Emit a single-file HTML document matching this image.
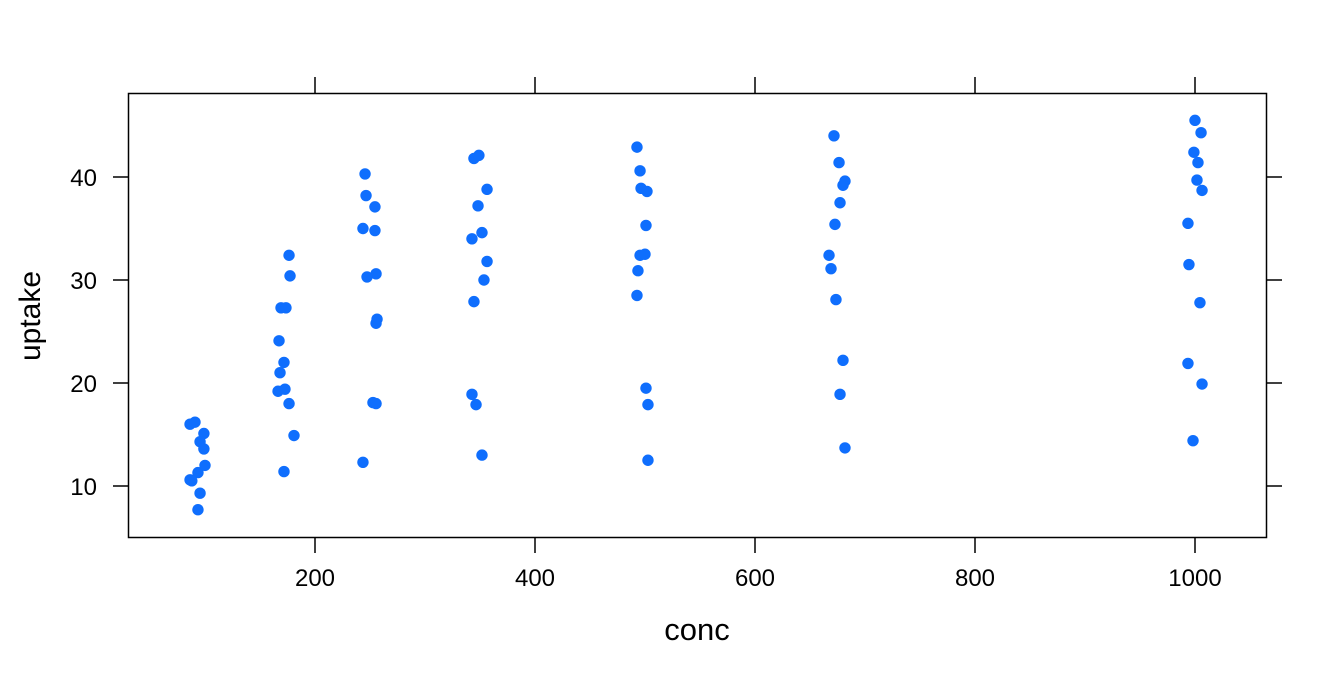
<!DOCTYPE html>
<html><head><meta charset="utf-8"><style>
html,body{margin:0;padding:0;background:#fff;}
svg text{font-family:"Liberation Sans",Arial,sans-serif;fill:#000;}
</style></head><body>
<svg id="chart" width="1344" height="672" xmlns="http://www.w3.org/2000/svg">
<rect x="128.5" y="93.5" width="1138" height="444" fill="none" stroke="#000" stroke-width="1.5"/>
<g id="axes"></g>
<g id="points"></g>
<text x="697" y="640" font-size="31" text-anchor="middle">conc</text>
<text x="0" y="0" font-size="30" text-anchor="middle" transform="translate(40,316) rotate(-90)">uptake</text>
</svg>
<script>
const concValues = [86.4,90.9,99,95.5,99,93.6,100,86.4,88,95.5,93.6,
176.4,177.3,169.1,173.6,167.3,171.8,168.2,166.4,172.7,176.4,180.9,171.8,
245.5,246.4,254.5,243.6,254.5,255.5,247.3,256.4,255.5,252.7,255.5,243.6,
344.5,349,356.4,348.2,351.8,342.7,356.4,353.6,344.5,342.7,346.4,351.8,
492.7,495.5,496.4,501.8,500.9,495.5,500,493.6,492.7,500.9,502.7,502.7,
671.8,676.4,681.8,680,677.3,672.7,667.3,669.1,673.6,680,677.3,681.8,
1000,1005.5,999,1002.7,1001.8,1006.4,993.6,994.5,1004.5,993.6,1006.4,998.2];
const uptakeValues = [16.0,16.2,15.1,14.3,13.6,11.3,12.0,10.6,10.5,9.3,7.7,
32.4,30.4,27.3,27.3,24.1,22.0,21.0,19.2,19.4,18.0,14.9,11.4,
40.3,38.2,37.1,35.0,34.8,30.6,30.3,26.2,25.8,18.1,18.0,12.3,
41.8,42.1,38.8,37.2,34.6,34.0,31.8,30.0,27.9,18.9,17.9,13.0,
42.9,40.6,38.9,38.6,35.3,32.4,32.5,30.9,28.5,19.5,17.9,12.5,
44.0,41.4,39.6,39.2,37.5,35.4,32.4,31.1,28.1,22.2,18.9,13.7,
45.5,44.3,42.4,41.4,39.7,38.7,35.5,31.5,27.8,21.9,19.9,14.4];
const xTicks = [200,400,600,800,1000];
const yTicks = [10,20,30,40];

const xs = v => 95 + v*1.1;
const ys = v => 589 - v*10.3;
const NS="http://www.w3.org/2000/svg";
const axes=document.getElementById('axes');
const pts=document.getElementById('points');
function mk(tag,attrs,parent){const e=document.createElementNS(NS,tag);for(const k in attrs)e.setAttribute(k,attrs[k]);parent.appendChild(e);return e;}
xTicks.forEach(t=>{
  const x=xs(t);
  const b=mk('line',{x1:x,x2:x,y1:537,y2:553,stroke:'#000','stroke-width':1.5},axes);
  
  
  const tp=mk('line',{x1:x,x2:x,y1:93,y2:77,stroke:'#000','stroke-width':1.5},axes);
  
  
  const l=mk('text',{x:x,y:586,'font-size':24,'text-anchor':'middle'},axes);
  l.textContent=t;
  
  
});
yTicks.forEach(t=>{
  const y=ys(t);
  const a=mk('line',{x1:113,x2:128,y1:y,y2:y,stroke:'#000','stroke-width':1.5},axes);
  
  
  const r=mk('line',{x1:1266,x2:1282,y1:y,y2:y,stroke:'#000','stroke-width':1.5},axes);
  
  
  const l=mk('text',{x:97,y:y+9,'font-size':24,'text-anchor':'end'},axes);
  l.textContent=t;
  
  
});
concValues.forEach((c,i)=>{
  const p=mk('circle',{cx:xs(c),cy:ys(uptakeValues[i]),r:5.7,fill:'#0f6efd'},pts);
  
  
});
</script>
</body></html>
